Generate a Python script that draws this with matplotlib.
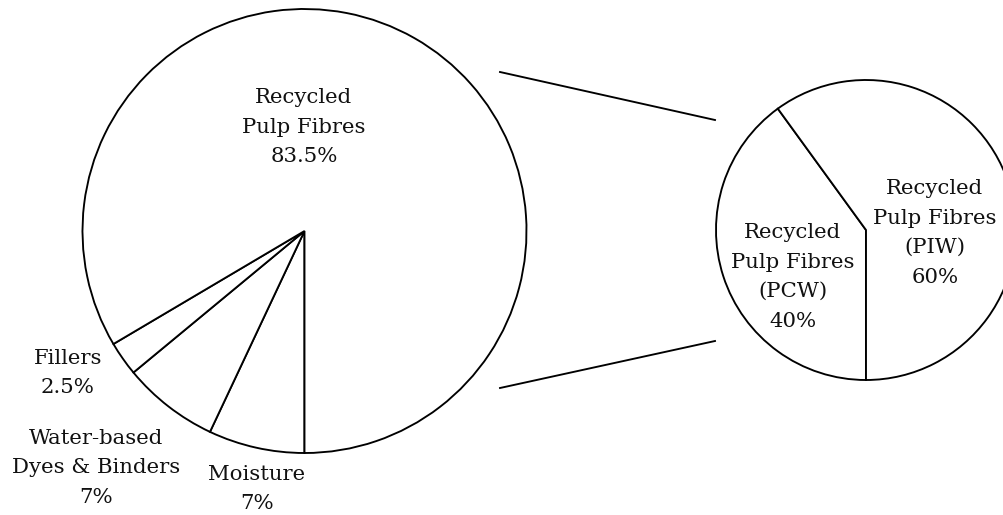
import matplotlib
matplotlib.use("Agg")
import matplotlib.pyplot as plt

# Data
main_labels = ["Moisture", "Water-based\nDyes & Binders", "Fillers", "Recycled\nPulp Fibres"]
main_values = [7, 7, 2.5, 83.5]
main_pct = ["7%", "7%", "2.5%", "83.5%"]

sub_labels = ["Recycled\nPulp Fibres\n(PCW)", "Recycled\nPulp Fibres\n(PIW)"]
sub_values = [40, 60]
sub_pct = ["40%", "60%"]

W, H = 1004, 515
fig = plt.figure(figsize=(W / 100, H / 100), dpi=100)
ax = fig.add_axes([0, 0, 1, 1])
ax.set_axis_off()

FONT = "DejaVu Serif"
FS = 15.3
LS = 1.7
LW = 1.35

def py(y):
    return H - y

wp = dict(facecolor="white", edgecolor="black", linewidth=LW)

# Main pie
main_c = (304.5, py(231))
main_r = 222
ax.pie(main_values, center=main_c, radius=main_r, startangle=270,
       counterclock=False, wedgeprops=wp, frame=True)

# Sub pie
sub_c = (866, py(230))
sub_r = 150
ax.pie(sub_values, center=sub_c, radius=sub_r, startangle=270,
       counterclock=False, wedgeprops=wp, frame=True)

ax.set_xlim(0, W)
ax.set_ylim(0, H)
ax.set_aspect("equal")
ax.set_axis_off()

# Labels for main pie
main_pos = [(257, 489), (96, 468), (68, 373), (304, 127)]
for lab, pct, (x, y) in zip(main_labels, main_pct, main_pos):
    ax.text(x, py(y), lab + "\n" + pct, ha="center", va="center",
            fontsize=FS, family=FONT, linespacing=LS, color="#111111")

sub_pos = [(793, 277), (935, 233)]
for lab, pct, (x, y) in zip(sub_labels, sub_pct, sub_pos):
    ax.text(x, py(y), lab + "\n" + pct, ha="center", va="center",
            fontsize=FS, family=FONT, linespacing=LS, color="#111111")

# Connection lines
ax.plot([500, 715], [py(72), py(120)], color="black", lw=LW)
ax.plot([500, 715], [py(388), py(341)], color="black", lw=LW)

fig.savefig("out.png", dpi=100, facecolor="white")
